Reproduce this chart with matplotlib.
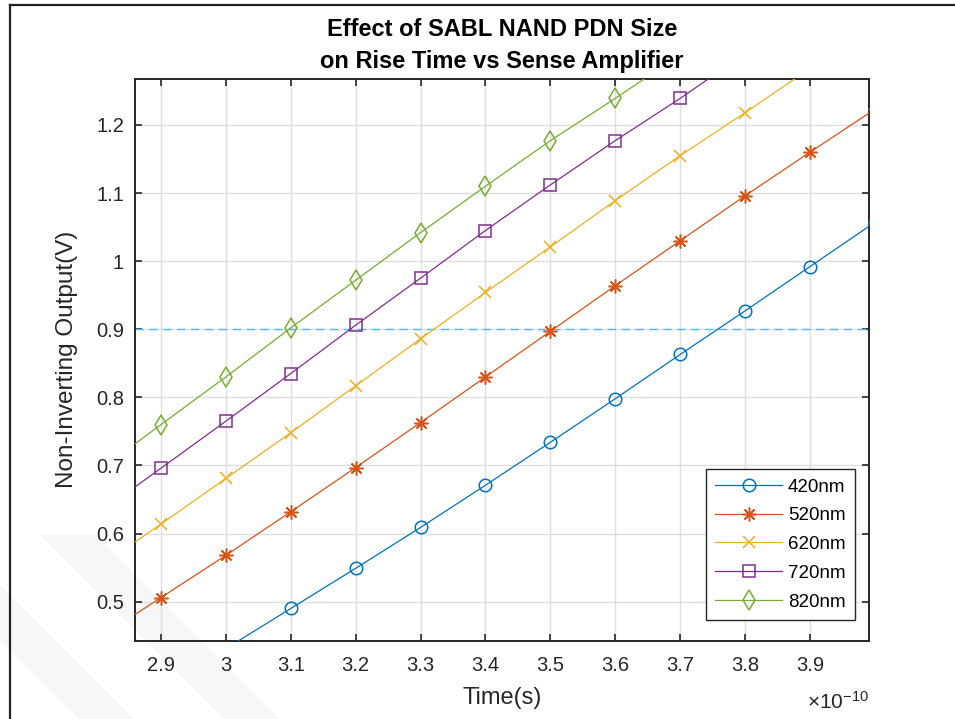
import numpy as np
import matplotlib
matplotlib.use("Agg")
import matplotlib.pyplot as plt
from matplotlib.lines import Line2D
from matplotlib.patches import Polygon
from matplotlib.ticker import FuncFormatter, MultipleLocator

plt.rcParams["font.family"] = ["Liberation Sans", "DejaVu Sans"]
plt.rcParams["mathtext.fontset"] = "custom"
plt.rcParams["mathtext.rm"] = "Liberation Sans"
plt.rcParams["mathtext.it"] = "Liberation Sans:italic"

# Time samples (seconds) and node voltages for each PDN width
time_s = np.array([2.8, 2.9, 3.0, 3.1, 3.2, 3.3, 3.4, 3.5, 3.6, 3.7, 3.8, 3.9, 4.0]) * 1e-10
v_420 = [np.nan, np.nan, 0.431, 0.490, 0.549, 0.609, 0.671, 0.734, 0.798, 0.863, 0.927, 0.992, 1.057]
v_520 = [0.444, 0.506, 0.568, 0.632, 0.697, 0.763, 0.830, 0.897, 0.964, 1.030, 1.096, 1.160, 1.223]
v_620 = [0.548, 0.614, 0.681, 0.748, 0.817, 0.886, 0.954, 1.021, 1.089, 1.155, 1.218, 1.283, np.nan]
v_720 = [0.627, 0.696, 0.765, 0.835, 0.906, 0.975, 1.045, 1.112, 1.177, 1.239, 1.305, np.nan, np.nan]
v_820 = [0.689, 0.760, 0.830, 0.902, 0.972, 1.042, 1.110, 1.177, 1.239, 1.303, np.nan, np.nan, np.nan]
series_labels = ["420nm", "520nm", "620nm", "720nm", "820nm"]
threshold_v = 0.9

colors = ["#0072BD", "#D95319", "#EDB120", "#7E2F8E", "#77AC30"]
markers = ["o", (8, 2, 0), "x", "s", "d"]
msizes = [9.0, 10.0, 8.5, 8.0, 10.5]

fig = plt.figure(figsize=(9.55, 7.19), dpi=100)
W, H = 955, 719

# faint background watermark bands
for pts in [
    [(40, 535), (95, 535), (279, 719), (224, 719)],
    [(0, 585), (0, 640), (79, 719), (134, 719)],
]:
    fig.patches.append(Polygon([(x / W, 1 - y / H) for x, y in pts], closed=True,
                               transform=fig.transFigure, facecolor="#f7f7f7",
                               edgecolor="none", zorder=-5))

# figure frame (top and left edges)
fig.lines.append(Line2D([9.5 / W, 1.0], [1 - 5 / H, 1 - 5 / H], transform=fig.transFigure,
                        color="#222222", lw=1.6))
fig.lines.append(Line2D([10 / W, 10 / W], [0.0, 1 - 5 / H], transform=fig.transFigure,
                        color="#222222", lw=1.6))

ax = fig.add_axes([135 / W, 1 - 640.7 / H, (869 - 135) / W, (640.7 - 79) / H])
ax.set_facecolor("none")

for vals, lab, c, m, ms in zip([v_420, v_520, v_620, v_720, v_820], series_labels,
                               colors, markers, msizes):
    ax.plot(time_s, vals, color=c, lw=0.9, marker=m, ms=ms, mew=1.1,
            mfc="none", mec=c, label=lab, zorder=3)

ax.axhline(threshold_v, color="#4DBEEE", lw=1.0, ls=(0, (6, 4)), zorder=2)

ax.set_xlim(2.86e-10, 3.991e-10)
ax.set_ylim(0.4427, 1.2675)
ax.xaxis.set_major_locator(MultipleLocator(0.1e-10))
ax.xaxis.set_major_formatter(FuncFormatter(lambda v, p: f"{v / 1e-10:.10g}"))
ax.yaxis.set_major_locator(MultipleLocator(0.1))
ax.yaxis.set_major_formatter(FuncFormatter(lambda v, p: f"{v:.10g}"))

ax.grid(True, color="#dedede", lw=1.0, zorder=0)
ax.set_axisbelow(True)
for s in ax.spines.values():
    s.set_color("#262626")
    s.set_linewidth(1.4)
ax.tick_params(direction="in", length=5, width=1.2, colors="#262626",
               top=True, right=True, labelsize=14.5)
ax.tick_params(axis="x", pad=11)
ax.tick_params(axis="y", pad=8)

ax.set_xlabel("Time(s)", fontsize=17, color="#262626")
ax.xaxis.set_label_coords(0.5, -0.083)
ax.set_ylabel("Non-Inverting Output(V)", fontsize=17.5, color="#262626")
ax.yaxis.set_label_coords(-0.078, 0.5)

ax.text(1.0, -0.122, r"$\times10^{-10}$", transform=ax.transAxes, ha="right",
        va="baseline", fontsize=15, color="#262626")

ax.set_title("Effect of SABL NAND PDN Size\non Rise Time vs Sense Amplifier",
             fontsize=17, fontweight="bold", linespacing=1.5, pad=8, color="#000000")

leg = ax.legend(loc="lower right", bbox_to_anchor=(0.981, 0.037), borderaxespad=0,
                fontsize=13.5, handlelength=3.6, handletextpad=0.3, labelspacing=0.62,
                borderpad=0.5, fancybox=False, framealpha=1, edgecolor="#262626")
leg.get_frame().set_linewidth(1.0)

fig.savefig("out.png", dpi=100)
